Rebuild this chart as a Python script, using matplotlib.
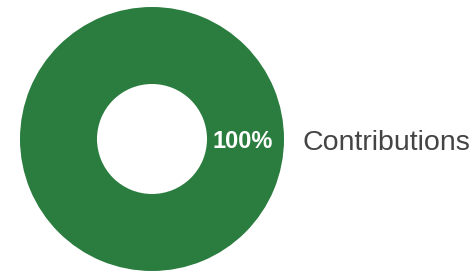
import matplotlib.pyplot as plt
from matplotlib.patches import Patch

categories = ["Contributions"]
values = [100]
colors = ["#2a7d3e"]

plt.rcParams['font.family'] = ['Liberation Sans', 'DejaVu Sans']

fig = plt.figure(figsize=(4.75, 2.71), dpi=100)
ax = fig.add_axes([20 / 475, 0 / 271, 264 / 475, 264 / 271])

wedges, texts, autotexts = ax.pie(
    values,
    colors=colors,
    startangle=180,
    counterclock=True,
    autopct="%1.0f%%",
    pctdistance=0.69,
    wedgeprops=dict(width=132 - 55, linewidth=0),
    radius=132,
)
for t in autotexts:
    t.set_color("white")
    t.set_fontweight("bold")
    t.set_fontsize(17)
    t.set_y(t.get_position()[1] - 3)
ax.set_xlim(-132, 132)
ax.set_ylim(-132, 132)
ax.set_aspect("equal")
ax.axis("off")

handles = [Patch(color="none") for _ in categories]
fig.legend(handles, categories, loc="center left",
           bbox_to_anchor=(277 / 475, 128 / 271),
           frameon=False, handlelength=0, handletextpad=0,
           fontsize=20.5, labelcolor="#444444")

fig.savefig("out.png", dpi=100)
